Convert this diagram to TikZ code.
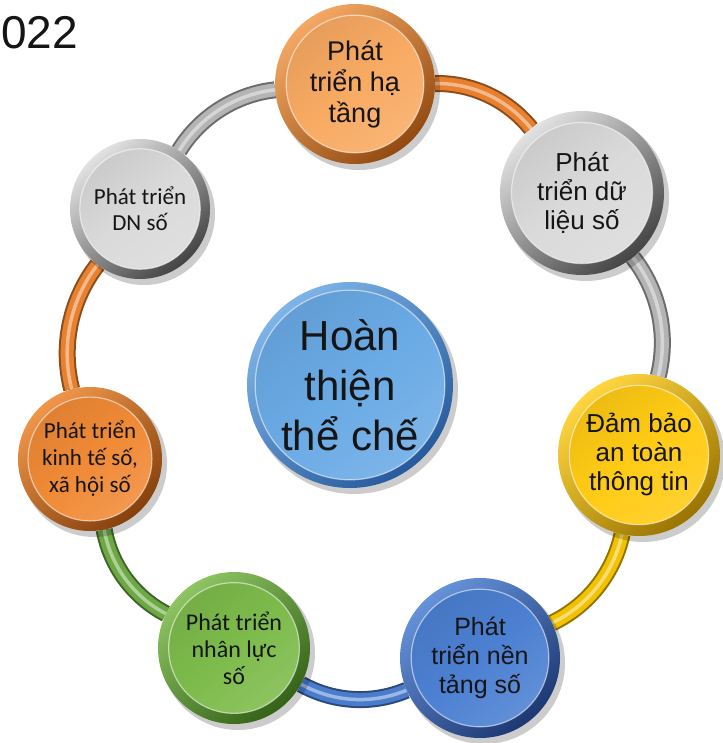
\documentclass[tikz,border=0pt]{standalone}
\usepackage{fontspec}
\setmainfont{Liberation Sans}
\newfontfamily\calib{Carlito}
\usetikzlibrary{calc,backgrounds}
% face / rim-light / rim-dark / connector colours
\definecolor{orFace}{HTML}{F8AA62}\definecolor{orLight}{HTML}{F5A864}\definecolor{orDark}{HTML}{924A10}\definecolor{orLine}{HTML}{E8802E}
\definecolor{oaFace}{HTML}{F08A36}\definecolor{oaLight}{HTML}{F0964A}\definecolor{oaDark}{HTML}{84400C}
\definecolor{grFace}{HTML}{DADADA}\definecolor{grLight}{HTML}{E2E2E2}\definecolor{grDark}{HTML}{444444}\definecolor{grLine}{HTML}{B4B4B4}
\definecolor{yeFace}{HTML}{FFCB14}\definecolor{yeLight}{HTML}{FFD640}\definecolor{yeDark}{HTML}{9A7400}\definecolor{yeLine}{HTML}{F2C200}
\definecolor{blFace}{HTML}{4C80D2}\definecolor{blLight}{HTML}{6692DA}\definecolor{blDark}{HTML}{1C3872}\definecolor{blLine}{HTML}{4A7CCC}
\definecolor{gnFace}{HTML}{7DBB4B}\definecolor{gnLight}{HTML}{8EC462}\definecolor{gnDark}{HTML}{346218}\definecolor{gnLine}{HTML}{6CA844}
\definecolor{ceFace}{HTML}{6AAAE5}\definecolor{ceLight}{HTML}{7EB4E8}\definecolor{ceDark}{HTML}{265A9C}
\definecolor{txt}{HTML}{151515}
\tikzset{
  rimnode/.style={circle, draw=none, inner sep=0pt},
  facenode/.style={circle, inner sep=0pt, align=center, text=txt},
  conn/.style={draw=#1, line width=13pt,
    preaction={draw=#1!60!black, line width=17pt},
    postaction={draw=white, line width=3.5pt, opacity=0.45}},
  arc/.style={bend left=26, looseness=0.9}
}
\newcommand\ringbtn[9]{%
  % #1 name, #2 position, #3 radius, #4 face, #5 rim light, #6 rim dark, #7 font, #8 text, #9 face ratio
  \fill[black, opacity=0.2] ($(#2)+(4,5)$) circle[radius=#3+1];
  \node[rimnode, minimum size={2*#3}, top color=#5, bottom color=#6, shading angle=40] (#1) at (#2) {};
  \node[facenode, minimum size={2*#9*#3}, top color=#4!93!black, bottom color=#4!88!white, middle color=#4, shading angle=40, draw=white, draw opacity=0.55, line width=1.2pt, font=#7] (#1-face) at (#1.center) {#8};
}
\begin{document}
\begin{tikzpicture}[x=1pt,y=-1pt]
\useasboundingbox (0,0) rectangle (722,743);

\node[anchor=base west, inner sep=0pt, font=\fontsize{46}{46}\selectfont, text=txt] (year) at (1,49) {022};

\ringbtn{top}{355,84}{80}{orFace}{orLight}{orDark}{\fontsize{27}{31}\selectfont}{Phát\\triển hạ\\tầng}{0.86}
\ringbtn{ur}{582,193}{82}{grFace}{grLight}{grDark}{\fontsize{26}{29}\selectfont}{Phát\\triển dữ\\liệu số}{0.86}
\ringbtn{ri}{639,455}{81}{yeFace}{yeLight}{yeDark}{\fontsize{26}{29}\selectfont}{Đảm bảo\\an toàn\\thông tin}{0.86}
\ringbtn{br}{480,658}{80}{blFace}{blLight}{blDark}{\fontsize{25}{29}\selectfont}{Phát\\triển nền\\tảng số}{0.86}
\ringbtn{bl}{234,648}{76}{gnFace}{gnLight}{gnDark}{\calib\fontsize{24}{27}\selectfont}{Phát triển\\nhân lực\\số}{0.86}
\ringbtn{le}{90,459}{72}{oaFace}{oaLight}{oaDark}{\calib\fontsize{23}{27}\selectfont}{Phát triển\\kinh tế số,\\xã hội số}{0.86}
\ringbtn{ul}{140,209}{70}{grFace}{grLight}{grDark}{\calib\fontsize{23}{26}\selectfont}{Phát triển\\DN số}{0.86}
\ringbtn{ce}{350,385}{103}{ceFace}{ceLight}{ceDark}{\fontsize{42}{50}\selectfont}{Hoàn\\thiện\\thể chế}{0.9}

\begin{pgfonlayer}{background}
\draw[conn=orLine] (top) to[arc] (ur);
\draw[conn=grLine] (ur) to[arc] (ri);
\draw[conn=yeLine] (ri) to[arc] (br);
\draw[conn=blLine] (br) to[arc] (bl);
\draw[conn=gnLine] (bl) to[arc] (le);
\draw[conn=orLine] (le) to[arc] (ul);
\draw[conn=grLine] (ul) to[arc] (top);
\end{pgfonlayer}
\end{tikzpicture}
\end{document}
